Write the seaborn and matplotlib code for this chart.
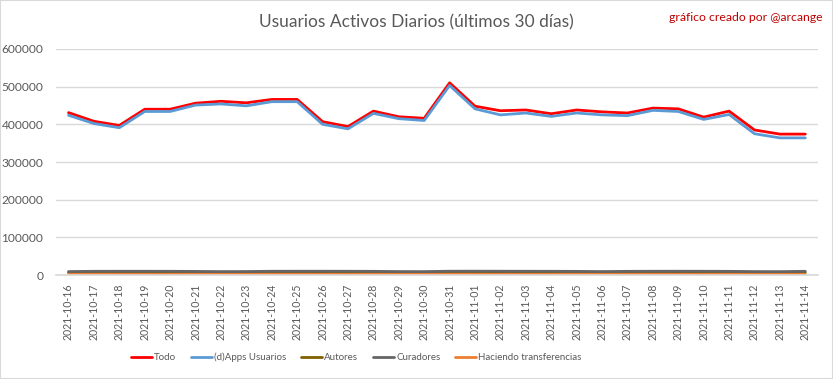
import pandas as pd
import seaborn as sns
import matplotlib.pyplot as plt
import matplotlib.patches as mpatches

# fechas (últimos 30 días)
dates = pd.date_range("2021-10-16", "2021-11-14").strftime("%Y-%m-%d").tolist()

todo = [431000, 408000, 397000, 440000, 440000, 456000, 461000, 457000, 466000, 466000,
        407000, 394000, 435000, 420000, 416000, 510000, 448000, 436000, 438000, 428000,
        438000, 433000, 430000, 443000, 441000, 419000, 435000, 385000, 374000, 374000]
dapps = [424000, 402000, 391000, 434000, 434000, 451000, 454000, 449000, 460000, 460000,
         400000, 388000, 429000, 415000, 410000, 503000, 441000, 425000, 430000, 421000,
         430000, 425000, 423000, 437000, 434000, 413000, 426000, 375000, 364000, 364000]
autores = [7000, 7200, 7300, 7300, 7200, 7000, 6800, 6900, 7200, 7300,
           7300, 7200, 7100, 6900, 6800, 7300, 7400, 7300, 7200, 7100,
           7000, 6900, 7200, 7300, 7300, 7200, 7100, 6800, 6700, 7000]
curadores = [9500, 10200, 10300, 10300, 10200, 9900, 9400, 9600, 10300, 10400,
             10400, 10300, 10100, 9500, 9400, 10400, 10500, 10400, 10300, 10200,
             10000, 9500, 10100, 10300, 10400, 10300, 10100, 9500, 9300, 10200]
transferencias = [2000, 2100, 2100, 2000, 2000, 2100, 2000, 2000, 2100, 2100,
                  2000, 2000, 2100, 2000, 2000, 2200, 2100, 2000, 2000, 2000,
                  2100, 2000, 2000, 2100, 2000, 2000, 2100, 1900, 1900, 1900]

series_names = ["Todo", "(d)Apps Usuarios", "Autores", "Curadores", "Haciendo transferencias"]
colors = ["#FF0000", "#5B9BD5", "#7F6000", "#666666", "#ED7D31"]

df = pd.DataFrame({"fecha": dates, "Todo": todo, "(d)Apps Usuarios": dapps,
                   "Autores": autores, "Curadores": curadores,
                   "Haciendo transferencias": transferencias})
long = df.melt(id_vars="fecha", var_name="serie", value_name="usuarios")

sns.set_theme(style="white")
plt.rcParams["font.family"] = ["Lato", "DejaVu Sans"]

fig = plt.figure(figsize=(8.33, 3.79), dpi=100)
ax = fig.add_axes([0.067, 0.274, 0.915, 0.597])

sns.lineplot(data=long, x="fecha", y="usuarios", hue="serie", hue_order=series_names,
             palette=colors, linewidth=2.0, ax=ax, sort=False)

ax.set_xlim(-0.5, len(dates) - 0.5)
ax.set_ylim(0, 600000)
ax.set_yticks(range(0, 600001, 100000))
ax.set_yticklabels([str(v) for v in range(0, 600001, 100000)])
ax.yaxis.grid(True, color="#D9D9D9", linewidth=1)
ax.set_axisbelow(True)
ax.set_xlabel("")
ax.set_ylabel("")
for s in ["top", "right", "left"]:
    ax.spines[s].set_visible(False)
ax.spines["bottom"].set_color("#D9D9D9")
ax.tick_params(axis="x", labelrotation=90, labelsize=7.6, colors="#595959", length=0, pad=6)
ax.tick_params(axis="y", labelsize=8.6, colors="#595959", length=0, pad=9)

fig.text(0.5, 0.94, "Usuarios Activos Diarios (últimos 30 días)", ha="center", va="center",
         fontsize=12.5, color="#595959")
fig.text(0.987, 0.955, "gráfico creado por @arcange", ha="right", va="center",
         fontsize=8.8, color="#C00000")

handles, labels = ax.get_legend_handles_labels()
ax.legend(handles, labels, loc="center", bbox_to_anchor=(0.394, -0.363), ncol=5,
          frameon=False, fontsize=7, labelcolor="#595959", handlelength=2.2,
          handletextpad=0.2, columnspacing=1.5)

fig.patches.append(mpatches.Rectangle((0, 0), 1, 1, transform=fig.transFigure,
                                      fill=False, edgecolor="#D9D9D9", linewidth=1.5))

fig.savefig("out.png", dpi=100)
